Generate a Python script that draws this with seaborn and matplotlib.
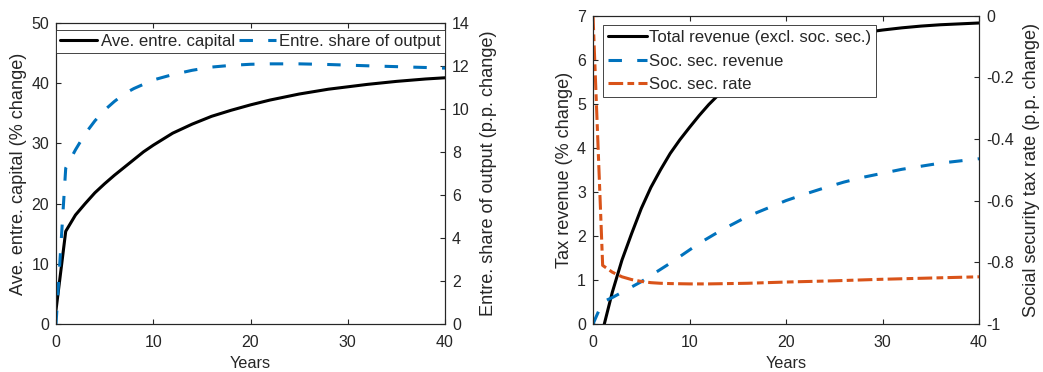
import matplotlib
matplotlib.use("Agg")
import matplotlib.pyplot as plt
import seaborn as sns
import pandas as pd

# ---------------- data ----------------
t_left = [0, 1, 2, 3, 4, 5, 6, 7, 8, 9, 10, 12, 14, 16, 18, 20, 22, 25, 28, 30, 32, 35, 38, 40]
entre_capital = [2.3, 15.4, 18.1, 20.0, 21.8, 23.3, 24.7, 26.0, 27.3, 28.6, 29.7, 31.7, 33.2,
                 34.5, 35.5, 36.4, 37.2, 38.2, 39.0, 39.4, 39.8, 40.3, 40.7, 40.9]
entre_share = [0.0, 7.25, 8.1, 8.85, 9.45, 9.95, 10.35, 10.7, 10.95, 11.15, 11.35, 11.6, 11.8,
               11.95, 12.03, 12.08, 12.1, 12.1, 12.07, 12.04, 12.01, 11.97, 11.93, 11.9]

t_right = [0, 1, 2, 3, 4, 5, 6, 7, 8, 9, 10, 11, 12, 13, 14, 16, 18, 20, 22, 24, 26, 28, 30,
           32, 34, 36, 38, 40]
total_revenue = [0.0, -0.15, 0.72, 1.45, 2.05, 2.62, 3.1, 3.5, 3.87, 4.18, 4.46, 4.73, 4.98,
                 5.2, 5.4, 5.72, 5.98, 6.18, 6.33, 6.45, 6.54, 6.61, 6.67, 6.72, 6.76, 6.79,
                 6.81, 6.83]
socsec_revenue = [0.0, 0.5, 0.6, 0.72, 0.84, 0.96, 1.10, 1.24, 1.38, 1.53, 1.68, 1.83, 1.96,
                  2.09, 2.21, 2.44, 2.62, 2.80, 2.95, 3.09, 3.22, 3.33, 3.42, 3.51, 3.58, 3.65,
                  3.70, 3.75]
t_rate = [0, 1, 2, 3, 4, 5, 6, 7, 8, 10, 12, 14, 16, 18, 20, 25, 30, 35, 40]
socsec_rate = [0.0, -0.81, -0.832, -0.847, -0.856, -0.862, -0.866, -0.868, -0.869, -0.870,
               -0.870, -0.869, -0.868, -0.866, -0.864, -0.860, -0.855, -0.851, -0.847]

x_ticks = [0, 10, 20, 30, 40]
left_yticks_a = [0, 10, 20, 30, 40, 50]
left_yticks_b = [0, 2, 4, 6, 8, 10, 12, 14]
right_yticks_a = [0, 1, 2, 3, 4, 5, 6, 7]
right_yticks_b = [-1, -0.8, -0.6, -0.4, -0.2, 0]
right_yticklabels_b = ["-1", "-0.8", "-0.6", "-0.4", "-0.2", "0"]

BLACK = "#000000"
BLUE = "#0072BD"
ORANGE = "#D95319"
EDGE = "#262626"

TICK_FS = 11.5
XLABEL_FS = 11.7
YLABEL_FS = 13.1
LEG_FS = 12.1

# ---------------- style ----------------
sns.set_theme(style="white")
plt.rcParams["font.family"] = ["Liberation Sans", "DejaVu Sans"]
plt.rcParams.update({
    "axes.edgecolor": EDGE,
    "axes.linewidth": 0.8,
    "xtick.color": EDGE,
    "ytick.color": EDGE,
    "xtick.labelcolor": EDGE,
    "ytick.labelcolor": EDGE,
    "axes.labelcolor": EDGE,
    "font.size": 11,
})

LW = 2.2
DASH = (0, (4.4, 5.0))
DASHDOT = (0, (4.8, 1.4, 2.2, 1.4))

fig = plt.figure(figsize=(10.43, 3.72), dpi=100)


def style_axes(ax, ax2, xlim, ylim1, ylim2):
    ax.set_xlim(*xlim)
    ax.set_ylim(*ylim1)
    ax2.set_ylim(*ylim2)
    ax.tick_params(axis="both", direction="in", length=3.5, width=0.8, labelsize=TICK_FS,
                   top=True, bottom=True, left=True, right=False, colors=EDGE)
    ax.tick_params(axis="x", pad=8)
    ax.tick_params(axis="y", pad=5)
    ax2.tick_params(axis="y", direction="in", length=3.5, width=0.8, labelsize=TICK_FS,
                    right=True, left=False, pad=5, colors=EDGE)
    for sp in ax.spines.values():
        sp.set_visible(True)
        sp.set_color(EDGE)
        sp.set_linewidth(0.8)
    for sp in ax2.spines.values():
        sp.set_color(EDGE)
        sp.set_linewidth(0.8)
    ax.grid(False)
    ax2.grid(False)


# ---------------- left panel ----------------
axL = fig.add_axes([56 / 1043, 48 / 372, 389 / 1043, 301 / 372])
axL2 = axL.twinx()
dfL = pd.DataFrame({"t": t_left, "cap": entre_capital, "share": entre_share})
sns.lineplot(data=dfL, x="t", y="cap", ax=axL, color=BLACK, linewidth=LW,
             label="Ave. entre. capital", legend=False)
sns.lineplot(data=dfL, x="t", y="share", ax=axL2, color=BLUE, linewidth=LW,
             linestyle=DASH, label="Entre. share of output", legend=False)
style_axes(axL, axL2, (0, 40), (0, 50), (0, 14))
axL.set_xticks(x_ticks)
axL.set_yticks(left_yticks_a)
axL2.set_yticks(left_yticks_b)
axL.set_xlabel("Years", fontsize=XLABEL_FS, labelpad=4)
axL.set_ylabel("Ave. entre. capital (% change)", fontsize=YLABEL_FS, labelpad=3)
axL2.set_ylabel("Entre. share of output (p.p. change)", fontsize=YLABEL_FS, labelpad=7)
hL = axL.get_lines() + axL2.get_lines()
legL = axL2.legend(hL, [h.get_label() for h in hL], loc="upper left",
                   bbox_to_anchor=(0, 0, 1, 0.978), mode="expand", ncol=2,
                   borderaxespad=0, fancybox=False, framealpha=1, edgecolor=EDGE,
                   handlelength=2.2, handletextpad=0.2, columnspacing=0.6,
                   borderpad=0.25, fontsize=LEG_FS)
legL.get_frame().set_linewidth(0.6)

# ---------------- right panel ----------------
axR = fig.add_axes([593 / 1043, 48 / 372, 386 / 1043, 308.5 / 372])
axR2 = axR.twinx()
dfR = pd.DataFrame({"t": t_right, "tot": total_revenue, "ssr": socsec_revenue})
dfRate = pd.DataFrame({"t": t_rate, "rate": socsec_rate})
sns.lineplot(data=dfR, x="t", y="tot", ax=axR, color=BLACK, linewidth=LW,
             label="Total revenue (excl. soc. sec.)", legend=False)
sns.lineplot(data=dfR, x="t", y="ssr", ax=axR, color=BLUE, linewidth=LW,
             linestyle=DASH, label="Soc. sec. revenue", legend=False)
sns.lineplot(data=dfRate, x="t", y="rate", ax=axR2, color=ORANGE, linewidth=LW,
             linestyle=DASHDOT, label="Soc. sec. rate", legend=False)
style_axes(axR, axR2, (0, 40), (0, 7), (-1, 0))
axR.set_xticks(x_ticks)
axR.set_yticks(right_yticks_a)
axR2.set_yticks(right_yticks_b)
axR2.set_yticklabels(right_yticklabels_b)
axR.set_xlabel("Years", fontsize=XLABEL_FS, labelpad=4)
axR.set_ylabel("Tax revenue (% change)", fontsize=YLABEL_FS, labelpad=3)
axR2.set_ylabel("Social security tax rate (p.p. change)", fontsize=YLABEL_FS, labelpad=7)
hR = axR.get_lines() + axR2.get_lines()
legR = axR2.legend(hR, [h.get_label() for h in hR], loc="upper left",
                   bbox_to_anchor=(0.026, 0.969), borderaxespad=0, fancybox=False,
                   framealpha=1, edgecolor=EDGE, handlelength=2.3, handletextpad=0.15,
                   labelspacing=0.5, borderpad=0.3, fontsize=LEG_FS)
legR.get_frame().set_linewidth(0.6)

fig.savefig("out.png", dpi=100)
